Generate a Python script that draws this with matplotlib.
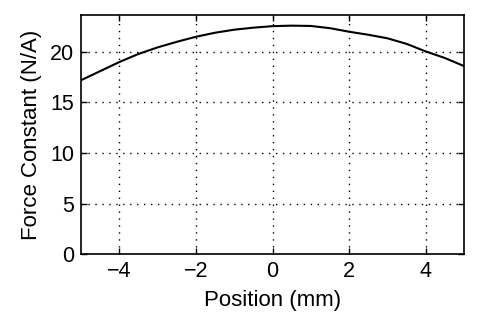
import numpy as np
import matplotlib
matplotlib.use("Agg")
import matplotlib.pyplot as plt

# position (mm) and force constant (N/A)
position = [-5.0, -4.5, -4.0, -3.5, -3.0, -2.5, -2.0, -1.5, -1.0, -0.5, 0.0,
            0.5, 1.0, 1.5, 2.0, 2.5, 3.0, 3.5, 4.0, 4.5, 5.0]
force_const = [17.2, 18.1, 19.0, 19.8, 20.45, 21.0, 21.5, 21.9, 22.2, 22.4, 22.55,
               22.6, 22.57, 22.35, 22.0, 21.7, 21.35, 20.8, 20.05, 19.4, 18.6]

x_ticks = [-4, -2, 0, 2, 4]
y_ticks = [0, 5, 10, 15, 20]

plt.rcParams["font.family"] = ["Liberation Sans", "DejaVu Sans"]

fig = plt.figure(figsize=(5, 3.2), dpi=100)
ax = fig.add_axes([0.162, 0.206, 0.766, 0.747])

ax.plot(position, force_const, color="black", lw=1.5)

ax.set_xlim(-5, 5)
ax.set_ylim(0, 23.65)
ax.set_xticks(x_ticks)
ax.set_yticks(y_ticks)
ax.set_xticklabels([f"\u2212{-t}" if t < 0 else str(t) for t in x_ticks])
ax.tick_params(direction="in", top=True, right=True, length=4, width=1,
               labelsize=15.5, pad=5)
ax.grid(True, linestyle=(0, (1, 4)), color="black", lw=1)
for s in ax.spines.values():
    s.set_linewidth(1.2)

ax.set_xlabel("Position (mm)", fontsize=16, labelpad=6)
ax.set_ylabel("Force Constant (N/A)", fontsize=16, labelpad=6)

fig.savefig("out.png", dpi=100)
